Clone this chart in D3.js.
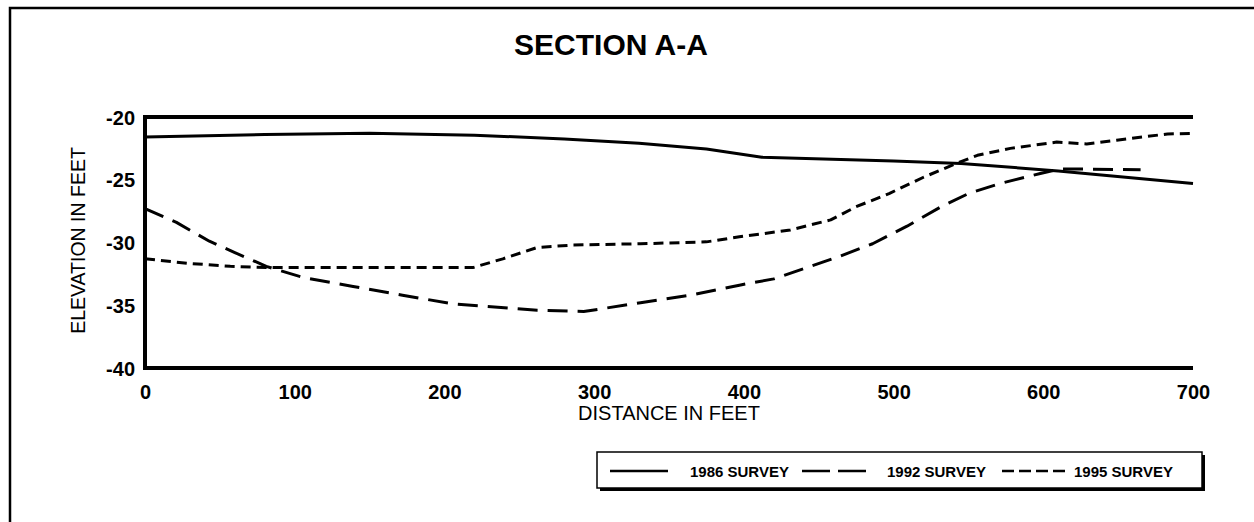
<!DOCTYPE html>
<html>
<head>
<meta charset="utf-8">
<script src="https://cdn.jsdelivr.net/npm/d3@7"></script>
<style>
  html, body { margin: 0; padding: 0; background: #fff; }
  svg { display: block; }
  text { font-family: "Liberation Sans", Arial, Helvetica, sans-serif; fill: #000; }
</style>
</head>
<body>
<svg id="chart" width="1254" height="522"></svg>
<script>
// Cross-section profiles: distance (ft) vs. elevation (ft)
const xTicks = [0, 100, 200, 300, 400, 500, 600, 700];
const yTicks = [-20, -25, -30, -35, -40];

const survey1986Dist = [0, 80, 150, 220, 280, 330, 375, 412, 500, 545, 610, 700];
const survey1986Elev = [-21.6, -21.4, -21.3, -21.45, -21.75, -22.1, -22.55, -23.2, -23.5, -23.7, -24.3, -25.3];

const survey1992Dist = [0, 21, 43, 60, 81, 106, 139, 172, 206, 228, 262, 293, 331, 364, 397, 420, 442, 464, 486, 509, 531, 550, 571, 598, 611, 630, 665];
const survey1992Elev = [-27.3, -28.4, -29.9, -30.8, -31.9, -32.8, -33.5, -34.2, -34.9, -35.1, -35.4, -35.5, -34.8, -34.2, -33.4, -32.9, -32.0, -31.1, -30.1, -28.7, -27.2, -26.1, -25.3, -24.5, -24.15, -24.15, -24.2];

const survey1995Dist = [0, 28, 57, 83, 150, 219, 239, 262, 286, 331, 375, 397, 431, 458, 475, 497, 520, 542, 556, 578, 609, 629, 649, 683, 700];
const survey1995Elev = [-31.3, -31.65, -31.9, -32.0, -32.0, -32.0, -31.3, -30.4, -30.2, -30.1, -29.95, -29.55, -29.0, -28.2, -27.15, -26.1, -24.8, -23.7, -23.05, -22.5, -22.0, -22.15, -21.85, -21.35, -21.3];

const seriesNames = ["1986 SURVEY", "1992 SURVEY", "1995 SURVEY"];

const svg = d3.select("#chart");

// Page frame (top and left edges)
svg.append("path")
  .attr("d", "M10,522 L10,8 L1254,8")
  .attr("fill", "none").attr("stroke", "#000").attr("stroke-width", 2.5);

// Title
svg.append("text")
  .attr("x", 611).attr("y", 55)
  .attr("text-anchor", "middle")
  .attr("font-size", 30).attr("font-weight", "bold")
  .text("SECTION A-A");

const margin = { left: 145, right: 1193, top: 117, bottom: 368 };
const x = d3.scaleLinear().domain([0, 700]).range([margin.left, margin.right]);
const y = d3.scaleLinear().domain([-40, -20]).range([margin.bottom, margin.top]);

// Axis frame: left, top and bottom edges
svg.append("path")
  .attr("d", `M${x(700)},${y(-20)} L${x(0)},${y(-20)} L${x(0)},${y(-40)} L${x(700)},${y(-40)}`)
  .attr("fill", "none").attr("stroke", "#000").attr("stroke-width", 4)
  .attr("stroke-linejoin", "miter");

// X axis tick labels
const xAxis = d3.axisBottom(x).tickValues(xTicks).tickSize(0).tickPadding(0);
const gx = svg.append("g").attr("transform", `translate(0,${y(-40)})`).call(xAxis);
gx.select(".domain").remove();
gx.selectAll("text")
  .attr("y", 31).attr("dy", null)
  .attr("font-size", 20).attr("font-weight", "bold")
  .attr("font-family", "Liberation Sans, Arial, sans-serif")
  .attr("fill", "#000");

// Y axis tick labels
const yAxis = d3.axisLeft(y).tickValues(yTicks).tickSize(0).tickPadding(0)
  .tickFormat(d => d3.format("d")(d).replace("\u2212", "-"));
const gy = svg.append("g").attr("transform", `translate(${x(0) - 10},0)`).call(yAxis);
gy.select(".domain").remove();
gy.selectAll("text")
  .attr("x", 0).attr("dy", "0.36em")
  .attr("font-size", 20).attr("font-weight", "bold")
  .attr("font-family", "Liberation Sans, Arial, sans-serif")
  .attr("fill", "#000");

// Axis titles
svg.append("text")
  .attr("x", (x(0) + x(700)) / 2).attr("y", 420)
  .attr("text-anchor", "middle")
  .attr("font-size", 20)
  .text("DISTANCE IN FEET");

svg.append("text")
  .attr("transform", `translate(85,${(y(-20) + y(-40)) / 2 - 2}) rotate(-90)`)
  .attr("text-anchor", "middle")
  .attr("font-size", 19.5)
  .text("ELEVATION IN FEET");

// Profile lines
const line = d3.line().x(d => x(d[0])).y(d => y(d[1]));
const zipPts = (xs, ys) => xs.map((v, i) => [v, ys[i]]);

const styles = [
  { dash: null },
  { dash: "20,10" },
  { dash: "10,6" }
];
const profiles = [
  zipPts(survey1986Dist, survey1986Elev),
  zipPts(survey1992Dist, survey1992Elev),
  zipPts(survey1995Dist, survey1995Elev)
];

profiles.forEach((pts, i) => {
  svg.append("path")
    .datum(pts)
    .attr("d", line)
    .attr("fill", "none")
    .attr("stroke", "#000")
    .attr("stroke-width", 3)
    .attr("stroke-linejoin", "round")
    .attr("stroke-dasharray", styles[i].dash);
});

// Legend box with drop shadow
const lg = svg.append("g");
lg.append("rect").attr("x", 600).attr("y", 455).attr("width", 605).attr("height", 36).attr("fill", "#000");
lg.append("rect").attr("x", 597).attr("y", 452).attr("width", 605).attr("height", 36)
  .attr("fill", "#fff").attr("stroke", "#000").attr("stroke-width", 1.5);

const legendItems = [
  { x1: 610, x2: 668, tx: 690 },
  { x1: 802, x2: 866, tx: 887 },
  { x1: 1002, x2: 1065, tx: 1074 }
];
const legendDash = [null, "28,8", "12,5"];
legendItems.forEach((it, i) => {
  lg.append("line")
    .attr("x1", it.x1).attr("x2", it.x2)
    .attr("y1", 471).attr("y2", 471)
    .attr("stroke", "#000").attr("stroke-width", 2.5)
    .attr("stroke-dasharray", legendDash[i]);
  lg.append("text")
    .attr("x", it.tx).attr("y", 477)
    .attr("font-size", 15).attr("font-weight", "bold")
    .text(seriesNames[i]);
});
</script>
</body>
</html>
